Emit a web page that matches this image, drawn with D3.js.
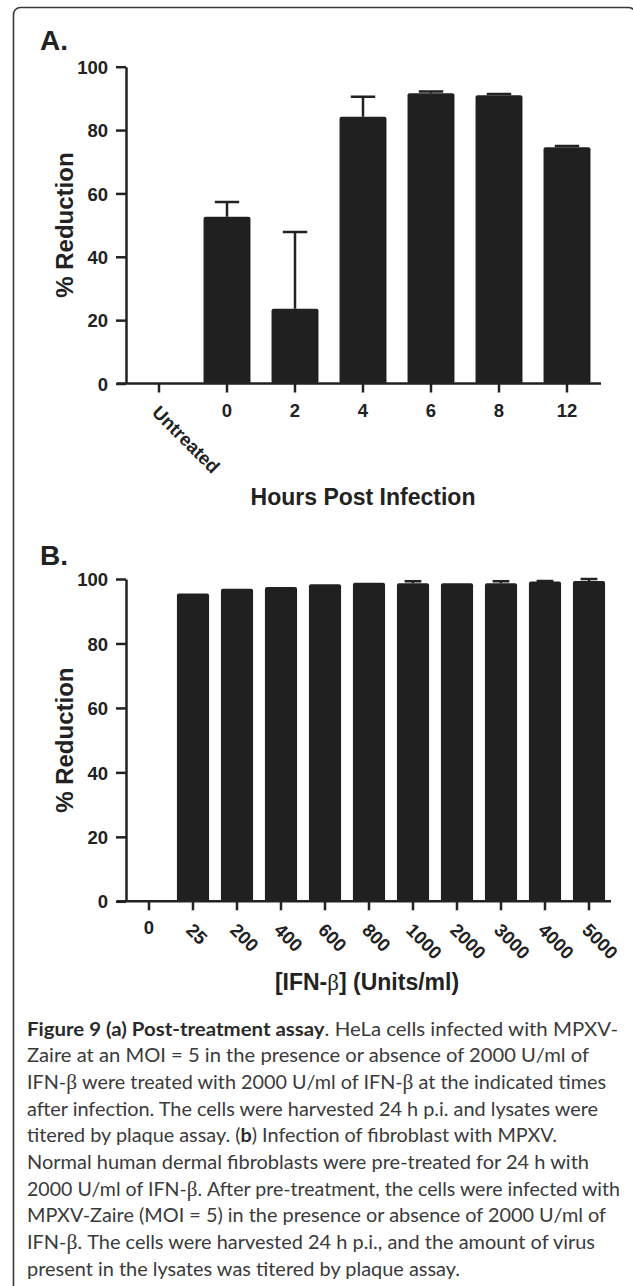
<!DOCTYPE html>
<html>
<head>
<meta charset="utf-8">
<script src="https://d3js.org/d3.v7.min.js"></script>
<style>
  body { margin: 0; background: #fff; }
  svg { display: block; }
  .lbl { font-family: "Liberation Sans", Arial, sans-serif; font-weight: bold; fill: #222; }
  .cap { font-family: Lato, "Open Sans", sans-serif; fill: #3a3a3a; font-size: 19.5px; }
</style>
</head>
<body>
<div id="chart"></div>
<script>
// panel A: post-treatment, % reduction by hours post infection
var hoursCats = ["Untreated", "0", "2", "4", "6", "8", "12"];
var hoursReduction = [0, 52.6, 23.6, 84.2, 91.6, 91.0, 74.6];
var hoursError = [0, 4.7, 24.2, 6.3, 0.6, 0.4, 0.4];

// panel B: fibroblasts, % reduction by IFN-beta dose
var doseCats = ["0", "25", "200", "400", "600", "800", "1000", "2000", "3000", "4000", "5000"];
var doseReduction = [0, 95.5, 97.0, 97.5, 98.4, 98.8, 98.7, 98.7, 98.7, 99.2, 99.4];
var doseError = [0, 0, 0, 0, 0, 0, 0.6, 0, 0.6, 0.2, 0.6];

var yTicks = [0, 20, 40, 60, 80, 100];

var captionLines = [
  "**Figure 9 (a) Post-treatment assay**. HeLa cells infected with MPXV-",
  "Zaire at an MOI = 5 in the presence or absence of 2000 U/ml of",
  "IFN-β were treated with 2000 U/ml of IFN-β at the indicated times",
  "after infection. The cells were harvested 24 h p.i. and lysates were",
  "titered by plaque assay. (**b**) Infection of fibroblast with MPXV.",
  "Normal human dermal fibroblasts were pre-treated for 24 h with",
  "2000 U/ml of IFN-β. After pre-treatment, the cells were infected with",
  "MPXV-Zaire (MOI = 5) in the presence or absence of 2000 U/ml of",
  "IFN-β. The cells were harvested 24 h p.i., and the amount of virus",
  "present in the lysates was titered by plaque assay."
];
// right ends of caption lines, in px (layout only)
var captionEnds = [618, 589, 606, 598, 557, 589, 620, 606, 595, 460];

var width = 633, height = 1286;
var ink = "#222";

var svg = d3.select("#chart")
    .append("svg")
    .attr("width", width)
    .attr("height", height);

// rounded frame round the figure
svg.append("rect")
    .attr("x", 13.5).attr("y", 7.5)
    .attr("width", 622).attr("height", 1292)
    .attr("rx", 7)
    .attr("fill", "none")
    .attr("stroke", "#3a3a3a")
    .attr("stroke-width", 1.6);

function drawPanel(opt) {
  var x = d3.scaleBand()
      .domain(opt.cats)
      .range(opt.xRange)
      .paddingInner(opt.pad)
      .paddingOuter(opt.pad / 2);
  var y = d3.scaleLinear().domain([0, 100]).range(opt.yRange);
  var y0 = y(0);

  var g = svg.append("g");

  // bars
  var rows = opt.cats.map(function(c, i) { return {c: c, v: opt.values[i], e: opt.errors[i]}; });
  g.selectAll(".bar")
      .data(rows.filter(function(d) { return d.v > 0; }))
      .enter().append("rect")
      .attr("class", "bar")
      .attr("x", function(d) { return x(d.c); })
      .attr("y", function(d) { return y(d.v); })
      .attr("width", x.bandwidth())
      .attr("height", function(d) { return y0 - y(d.v); })
      .attr("rx", 2)
      .attr("fill", "#202020");

  // upper error bars
  var errs = rows.filter(function(d) { return d.e > 0; });
  var capW = x.bandwidth() * 0.52;
  g.selectAll(".err")
      .data(errs)
      .enter().append("path")
      .attr("class", "err")
      .attr("d", function(d) {
        var cx = x(d.c) + x.bandwidth() / 2;
        var top = y(d.v + d.e);
        return "M" + cx + "," + y(d.v) + "V" + top +
               "M" + (cx - capW / 2) + "," + top + "H" + (cx + capW / 2);
      })
      .attr("fill", "none")
      .attr("stroke", ink)
      .attr("stroke-width", 2.5);

  // y axis
  var ya = g.append("g")
      .attr("transform", "translate(126,0)")
      .call(d3.axisLeft(y).tickValues(yTicks).tickSize(10).tickSizeOuter(0).tickPadding(8));
  ya.select(".domain").attr("stroke", ink).attr("stroke-width", 2.5);
  ya.selectAll(".tick line").attr("stroke", ink).attr("stroke-width", 2.5);
  ya.selectAll(".tick text")
      .attr("class", "lbl")
      .attr("font-size", 18.5)
      .attr("dy", "0.36em");

  // x axis
  var xa = g.append("g")
      .attr("transform", "translate(0," + y0 + ")")
      .call(d3.axisBottom(x).tickSize(9).tickSizeOuter(0));
  xa.select(".domain").remove();
  xa.selectAll(".tick line").attr("stroke", ink).attr("stroke-width", 2.5);
  xa.selectAll(".tick text").remove();
  g.append("line")
      .attr("x1", 117).attr("x2", opt.xRange[1])
      .attr("y1", y0).attr("y2", y0)
      .attr("stroke", ink)
      .attr("stroke-width", 2.5);

  g.selectAll(".xlab")
      .data(opt.cats)
      .enter().append("text")
      .attr("class", "lbl")
      .attr("font-size", 18.5)
      .attr("transform", function(d, i) {
        var cx = x(d) + x.bandwidth() / 2;
        if (opt.rotated(i)) return "translate(" + (cx - 8) + "," + (y0 + 30) + ") rotate(45)";
        return "translate(" + cx + "," + (y0 + 33) + ")";
      })
      .attr("text-anchor", function(d, i) { return opt.rotated(i) ? "start" : "middle"; })
      .text(function(d) { return d; });

  // y title
  g.append("text")
      .attr("class", "lbl")
      .attr("font-size", 24)
      .attr("text-anchor", "middle")
      .attr("transform", "translate(73," + ((opt.yRange[0] + opt.yRange[1]) / 2) + ") rotate(-90)")
      .text("% Reduction");

  // panel letter
  g.append("text")
      .attr("class", "lbl")
      .attr("font-size", 28)
      .attr("x", 40).attr("y", opt.letterY)
      .text(opt.letter);

  // x title
  var xt = g.append("text")
      .attr("class", "lbl")
      .attr("font-size", 23)
      .attr("text-anchor", "middle")
      .attr("x", opt.titleX).attr("y", opt.titleY);
  opt.title.forEach(function(part) {
    var t = xt.append("tspan").text(part);
    if (part === "β") {
      t.attr("font-family", "'Liberation Serif', 'DejaVu Serif', serif").attr("font-weight", "normal");
    }
  });
}

drawPanel({
  cats: hoursCats, values: hoursReduction, errors: hoursError,
  xRange: [125, 601], pad: 0.31, yRange: [383.5, 66.7],
  rotated: function(i) { return i === 0; },
  letter: "A.", letterY: 49.5,
  title: ["Hours Post Infection"], titleX: 363, titleY: 505
});

drawPanel({
  cats: doseCats, values: doseReduction, errors: doseError,
  xRange: [127, 611], pad: 0.27, yRange: [901.3, 579],
  rotated: function(i) { return i > 0; },
  letter: "B.", letterY: 565,
  title: ["[IFN-", "β", "] (Units/ml)"], titleX: 367, titleY: 990
});

// caption
var capX = 27, capY = 1035.5, capStep = 26.7;
captionLines.forEach(function(line, i) {
  var t = svg.append("text")
      .attr("class", "cap")
      .attr("x", capX)
      .attr("y", capY + i * capStep);
  line.split("**").forEach(function(chunk, k) {
    var bold = k % 2 === 1;
    chunk.split(/(β)/).forEach(function(piece) {
      if (!piece) return;
      var s = t.append("tspan").text(piece);
      if (bold) s.attr("font-weight", "bold").attr("fill", "#2a2a2a");
      if (piece === "β") s.attr("font-family", "'Liberation Serif', 'DejaVu Serif', serif").attr("font-size", "21px");
    });
  });
  var natural = t.node().getComputedTextLength();
  var target = captionEnds[i] - capX;
  if (Math.abs(natural - target) > 1) {
    t.attr("textLength", target).attr("lengthAdjust", "spacingAndGlyphs");
  }
});
</script>
</body>
</html>
